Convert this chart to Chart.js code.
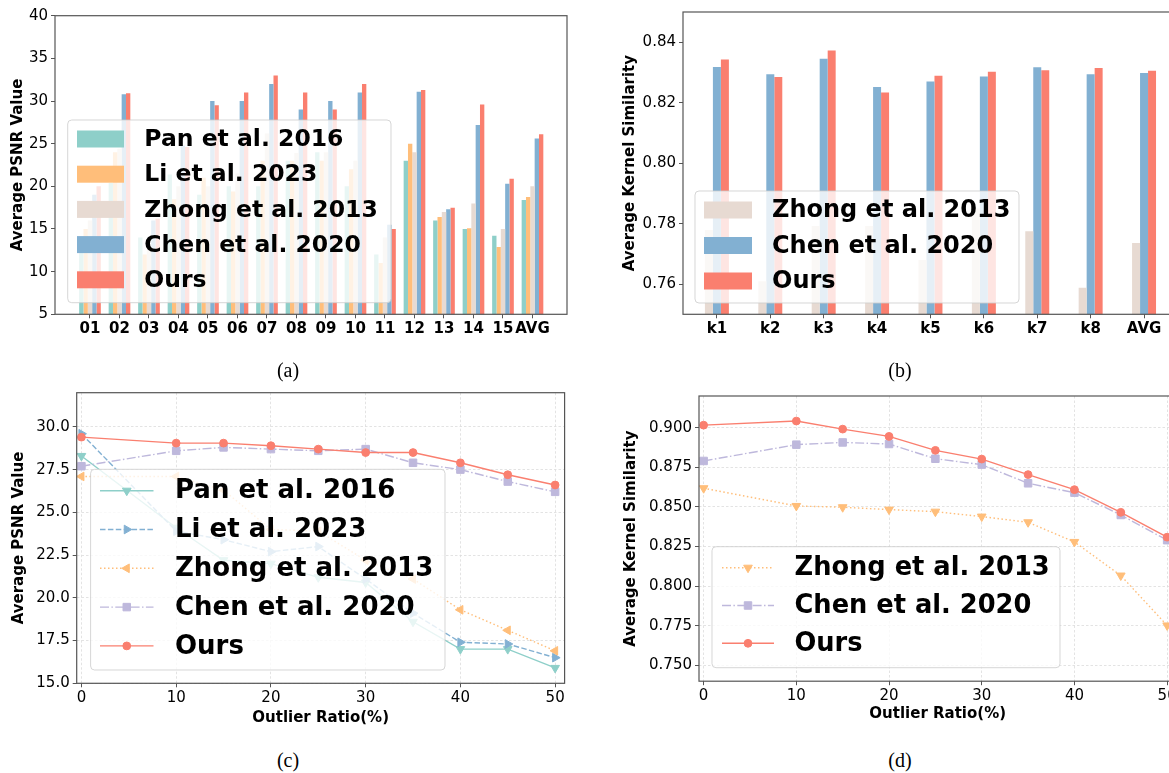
<!DOCTYPE html>
<html>
<head>
<meta charset="utf-8">
<title>PSNR / Kernel Similarity</title>
<script src="https://cdn.jsdelivr.net/npm/chart.js@4.4.1/dist/chart.umd.min.js"></script>
<style>
html, body { margin:0; padding:0; background:#fff; }
#page { position:relative; width:1169px; height:773px; overflow:hidden; background:#fff; }
#page canvas { position:absolute; }
.cap { position:absolute; width:60px; text-align:center; font-family:"Liberation Serif", serif; font-size:20px; line-height:24px; color:#000; }
</style>
</head>
<body>
<div id="page">
  <canvas id="graficoA" width="590" height="345" style="left:0;top:0"></canvas>
  <canvas id="graficoB" width="580" height="345" style="left:600px;top:0"></canvas>
  <canvas id="graficoC" width="590" height="355" style="left:0;top:380px"></canvas>
  <canvas id="graficoD" width="590" height="355" style="left:600px;top:380px"></canvas>
  <div class="cap" style="left:258px;top:358px">(a)</div>
  <div class="cap" style="left:870px;top:358px">(b)</div>
  <div class="cap" style="left:258px;top:748px">(c)</div>
  <div class="cap" style="left:870px;top:748px">(d)</div>
</div>
<script>

// Datos panel (a)

const seqLabels = ["01","02","03","04","05","06","07","08","09","10","11","12","13","14","15","AVG"];
const psnrPan   = [14.0, 20.4, 14.0, 21.4, 19.0, 20.0, 20.0, 23.0, 24.0, 20.0, 12.0, 23.0, 16.0, 15.0, 14.2, 18.4];
const psnrLi    = [15.0, 24.0, 12.0, 18.5, 21.0, 19.4, 23.0, 23.0, 23.0, 22.0, 11.0, 25.0, 16.4, 15.1, 12.9, 18.75];
const psnrZhong = [16.0, 24.4, 13.0, 20.0, 20.0, 21.5, 26.2, 23.9, 24.0, 23.0, 14.0, 24.0, 17.0, 18.0, 15.0, 20.0];
const psnrChen  = [19.0, 30.8, 16.0, 24.8, 30.0, 30.0, 32.0, 29.0, 30.0, 31.0, 15.5, 31.1, 17.3, 27.2, 20.3, 25.6];
const psnrOurs  = [20.0, 30.9, 16.2, 24.6, 29.5, 31.0, 33.0, 31.0, 29.0, 32.0, 15.0, 31.3, 17.5, 29.6, 20.9, 26.1];
const psnrTicks = [5, 10, 15, 20, 25, 30, 35, 40];

// Datos panel (b)

const kernelLabels = ["k1","k2","k3","k4","k5","k6","k7","k8","AVG"];
const simZhong = [0.7779, 0.7609, 0.7792, 0.7792, 0.7680, 0.7850, 0.7775, 0.7588, 0.7736];
const simChen  = [0.8318, 0.8294, 0.8345, 0.8252, 0.8270, 0.8287, 0.8317, 0.8294, 0.8298];
const simOurs  = [0.8343, 0.8285, 0.8373, 0.8234, 0.8289, 0.8302, 0.8307, 0.8315, 0.8306];
const simTicks = [0.76, 0.78, 0.80, 0.82, 0.84];

// Datos panel (c) y (d)

const outlierRatio = [0, 10, 15, 20, 25, 30, 35, 40, 45, 50];
const ratioTicks = [0, 10, 20, 30, 40, 50];

const outPsnrPan   = [28.3, 24.1, 22.2, 22.0, 21.2, 20.9, 18.6, 17.0, 17.0, 15.9];
const outPsnrLi    = [29.6, 23.9, 23.4, 22.7, 23.0, 21.1, 19.1, 17.4, 17.3, 16.5];
const outPsnrZhong = [27.1, 27.1, 26.3, 24.0, 23.9, 22.2, 21.1, 19.3, 18.1, 16.9];
const outPsnrChen  = [27.7, 28.6, 28.8, 28.7, 28.6, 28.7, 27.9, 27.5, 26.8, 26.2];
const outPsnrOurs  = [29.4, 29.05, 29.05, 28.9, 28.7, 28.5, 28.5, 27.9, 27.2, 26.6];
const outPsnrTicks = [15, 17.5, 20, 22.5, 25, 27.5, 30];

const outSimZhong = [0.8618, 0.8506, 0.8498, 0.8483, 0.8470, 0.8439, 0.8403, 0.8279, 0.8067, 0.7752];
const outSimChen  = [0.8790, 0.8893, 0.8907, 0.8897, 0.8804, 0.8767, 0.8649, 0.8590, 0.8449, 0.8290];
const outSimOurs  = [0.9016, 0.9042, 0.8991, 0.8945, 0.8857, 0.8802, 0.8704, 0.8609, 0.8466, 0.8309];
const outSimTicks = [0.75, 0.775, 0.80, 0.825, 0.85, 0.875, 0.90];

// Colores

const colPan = "#8ECFC9";
const colLi = "#FFBE7A";
const colZhong = "#E7DAD2";
const colChen = "#82B0D2";
const colOurs = "#FA7F6F";
const colChenLine = "#BEB8DC";

Chart.defaults.font.family = "'DejaVu Sans', sans-serif";
Chart.defaults.color = "#000";
Chart.defaults.animation = false;

// Helpers

const barras = vals => vals.map((v, i) => ({x: i, y: v}));
const puntos = vals => outlierRatio.map((r, i) => ({x: r, y: vals[i]}));

function fijar(size) {
    return function(scale) {
        if (scale.isHorizontal()) scale.height = size; else scale.width = size;
    };
}

function ticksDe(values) {
    return function(scale) {
        scale.ticks = values.map(v => ({value: v}));
    };
}

// Marco de los ejes (4 lados)

const marco = {
    id: "marco",
    afterDraw(chart) {
        const a = chart.chartArea, c = chart.ctx;
        c.save();
        c.strokeStyle = "#555";
        c.lineWidth = 1.2;
        c.strokeRect(a.left, a.top, a.right - a.left, a.bottom - a.top);
        c.restore();
    }
};

// Leyenda dentro del área, con fondo semitransparente

const cajaLeyenda = {
    id: "cajaLeyenda",
    afterDatasetsDraw(chart, args, o) {
        const c = chart.ctx;
        c.save();
        c.beginPath();
        c.roundRect(o.left, o.top, o.width, o.height, 4);
        c.fillStyle = "rgba(255,255,255,0.8)";
        c.fill();
        c.strokeStyle = "rgba(204,204,204,0.8)";
        c.lineWidth = 1;
        c.stroke();

        chart.data.datasets.forEach((ds, i) => {
            const y = o.firstRow + i * o.rowGap;
            if (o.kind === "bar") {
                c.fillStyle = ds.backgroundColor;
                c.fillRect(o.handleX, y - o.handleH / 2, o.handleW, o.handleH);
            } else {
                c.strokeStyle = ds.borderColor;
                c.lineWidth = ds.borderWidth;
                c.setLineDash(ds.borderDash || []);
                c.beginPath();
                c.moveTo(o.handleX, y);
                c.lineTo(o.handleX + o.handleW, y);
                c.stroke();
                c.setLineDash([]);
                c.fillStyle = ds.borderColor;
                c.lineWidth = 1;
                Chart.helpers.drawPoint(c, {
                    pointStyle: ds.pointStyle,
                    rotation: ds.pointRotation || 0,
                    radius: ds.pointRadius,
                    borderWidth: 1
                }, o.handleX + o.handleW / 2, y);
            }
            c.fillStyle = "#000";
            c.font = "bold " + o.fontSize + "px 'DejaVu Sans', sans-serif";
            c.textBaseline = "middle";
            c.textAlign = "left";
            c.fillText(ds.label, o.textX, y + 1);
        });
        c.restore();
    }
};

// Configuración común de ejes

const tickFont = {size: 15};
const tickFontBold = {size: 15, weight: "bold"};

const gridBarras = {drawOnChartArea: false, color: "#555", tickLength: 4, offset: false};
const gridLineas = {color: "#dcdcdc", lineWidth: 0.8, tickColor: "#555", tickWidth: 1, tickLength: 4};

function lineaDataset(label, vals, color, dash, style, rot, radius, order) {
    return {
        label: label,
        data: puntos(vals),
        borderColor: color,
        backgroundColor: color,
        pointBackgroundColor: color,
        pointBorderColor: color,
        borderWidth: 1.4,
        borderDash: dash,
        pointStyle: style,
        pointRotation: rot,
        pointRadius: radius,
        pointBorderWidth: 1,
        tension: 0,
        fill: false,
        order: order
    };
}

// Panel (a)

new Chart(document.getElementById("graficoA"), {
    type: "bar",
    data: {
        datasets: [
            {label: "Pan et al. 2016", data: barras(psnrPan), backgroundColor: colPan},
            {label: "Li et al. 2023", data: barras(psnrLi), backgroundColor: colLi},
            {label: "Zhong et al. 2013", data: barras(psnrZhong), backgroundColor: colZhong},
            {label: "Chen et al. 2020", data: barras(psnrChen), backgroundColor: colChen},
            {label: "Ours", data: barras(psnrOurs), backgroundColor: colOurs}
        ]
    },
    options: {
        responsive: false,
        layout: {autoPadding: false, padding: {left: 0, top: 15.7, right: 23, bottom: 0}},
        datasets: {bar: {categoryPercentage: 0.735, barPercentage: 1, borderWidth: 0}},
        plugins: {
            legend: {display: false},
            tooltip: {enabled: false},
            cajaLeyenda: {kind: "bar", left: 67.7, top: 120, width: 323.3, height: 182.7,
                firstRow: 139, rowGap: 35.2, handleX: 77, handleW: 47, handleH: 17, textX: 144.3, fontSize: 23.5}
        },
        scales: {
            x: {
                type: "linear", min: -1.186, max: 16.17, offset: false,
                afterBuildTicks: ticksDe(seqLabels.map((l, i) => i)),
                afterFit: fijar(30.7),
                ticks: {callback: v => seqLabels[v], font: tickFontBold, padding: 2, autoSkip: false, maxRotation: 0, minRotation: 0},
                grid: gridBarras,
                border: {display: false}
            },
            y: {
                min: 5, max: 40,
                afterBuildTicks: ticksDe(psnrTicks),
                afterFit: fijar(55),
                ticks: {font: tickFont, padding: 3},
                grid: gridBarras,
                border: {display: false},
                title: {display: true, text: "Average PSNR Value", font: {size: 15, weight: "bold"}, padding: {top: 9, bottom: 0}}
            }
        }
    },
    plugins: [cajaLeyenda, marco]
});

// Panel (b)

new Chart(document.getElementById("graficoB"), {
    type: "bar",
    data: {
        datasets: [
            {label: "Zhong et al. 2013", data: barras(simZhong), backgroundColor: colZhong},
            {label: "Chen et al. 2020", data: barras(simChen), backgroundColor: colChen},
            {label: "Ours", data: barras(simOurs), backgroundColor: colOurs}
        ]
    },
    options: {
        responsive: false,
        layout: {autoPadding: false, padding: {left: 0, top: 9.3, right: 2, bottom: 0}},
        datasets: {bar: {categoryPercentage: 0.449, barPercentage: 1, borderWidth: 0}},
        plugins: {
            legend: {display: false},
            tooltip: {enabled: false},
            cajaLeyenda: {kind: "bar", left: 95, top: 191, width: 324, height: 112,
                firstRow: 210, rowGap: 35.5, handleX: 104, handleW: 48, handleH: 17, textX: 172, fontSize: 24}
        },
        scales: {
            x: {
                type: "linear", min: -0.635, max: 8.636, offset: false,
                afterBuildTicks: ticksDe(kernelLabels.map((l, i) => i)),
                afterFit: fijar(30.7),
                ticks: {callback: v => kernelLabels[v], font: tickFontBold, padding: 2, autoSkip: false, maxRotation: 0, minRotation: 0},
                grid: gridBarras,
                border: {display: false}
            },
            y: {
                min: 0.75, max: 0.85,
                afterBuildTicks: ticksDe(simTicks),
                afterFit: fijar(83),
                ticks: {font: tickFont, padding: 3, callback: v => v.toFixed(2)},
                grid: gridBarras,
                border: {display: false},
                title: {display: true, text: "Average Kernel Similarity", font: {size: 15, weight: "bold"}, padding: {top: 21.5, bottom: 0}}
            }
        }
    },
    plugins: [cajaLeyenda, marco]
});

// Panel (c)

new Chart(document.getElementById("graficoC"), {
    type: "line",
    data: {
        datasets: [
            lineaDataset("Pan et al. 2016", outPsnrPan, colPan, [], "triangle", 180, 5, 5),
            lineaDataset("Li et al. 2023", outPsnrLi, colChen, [5.5, 2.4], "triangle", 90, 5, 4),
            lineaDataset("Zhong et al. 2013", outPsnrZhong, colLi, [1.5, 2.5], "triangle", 270, 5, 3),
            lineaDataset("Chen et al. 2020", outPsnrChen, colChenLine, [9, 2.4, 1.5, 2.4], "rect", 0, 5.3, 2),
            lineaDataset("Ours", outPsnrOurs, colOurs, [], "circle", 0, 3.9, 1)
        ]
    },
    options: {
        responsive: false,
        layout: {autoPadding: false, padding: {left: 0, top: 12.7, right: 25.4, bottom: 0}},
        plugins: {
            legend: {display: false},
            tooltip: {enabled: false},
            cajaLeyenda: {kind: "line", left: 90.6, top: 89.3, width: 354.4, height: 200.7,
                firstRow: 110.7, rowGap: 38.8, handleX: 100, handleW: 53.5, textX: 175, fontSize: 26}
        },
        scales: {
            x: {
                type: "linear", min: -0.5, max: 51,
                afterBuildTicks: ticksDe(ratioTicks),
                afterFit: fijar(51.7),
                ticks: {font: tickFont, padding: 2, maxRotation: 0, minRotation: 0},
                grid: gridLineas,
                border: {display: false, dash: [2.5, 2]},
                title: {display: true, text: "Outlier Ratio(%)", font: {size: 15, weight: "bold"}, padding: {top: 0, bottom: 8}}
            },
            y: {
                min: 15, max: 32,
                afterBuildTicks: ticksDe(outPsnrTicks),
                afterFit: fijar(76.7),
                ticks: {font: tickFont, padding: 3, callback: v => v.toFixed(1)},
                grid: gridLineas,
                border: {display: false, dash: [2.5, 2]},
                title: {display: true, text: "Average PSNR Value", font: {size: 15, weight: "bold"}, padding: {top: 10.5, bottom: 0}}
            }
        }
    },
    plugins: [cajaLeyenda, marco]
});

// Panel (d)

new Chart(document.getElementById("graficoD"), {
    type: "line",
    data: {
        datasets: [
            lineaDataset("Zhong et al. 2013", outSimZhong, colLi, [1.5, 2.5], "triangle", 180, 5, 3),
            lineaDataset("Chen et al. 2020", outSimChen, colChenLine, [9, 2.4, 1.5, 2.4], "rect", 0, 5.3, 2),
            lineaDataset("Ours", outSimOurs, colOurs, [], "circle", 0, 3.9, 1)
        ]
    },
    options: {
        responsive: false,
        layout: {autoPadding: false, padding: {left: 0, top: 16, right: 13.6, bottom: 0}},
        plugins: {
            legend: {display: false},
            tooltip: {enabled: false},
            cajaLeyenda: {kind: "line", left: 112, top: 166.7, width: 348, height: 121,
                firstRow: 187.7, rowGap: 37.8, handleX: 122, handleW: 52, textX: 194.5, fontSize: 25.7}
        },
        scales: {
            x: {
                type: "linear", min: -0.5, max: 51,
                afterBuildTicks: ticksDe(ratioTicks),
                afterFit: fijar(53.8),
                ticks: {font: tickFont, padding: 2, maxRotation: 0, minRotation: 0},
                grid: gridLineas,
                border: {display: false, dash: [2.5, 2]},
                title: {display: true, text: "Outlier Ratio(%)", font: {size: 15, weight: "bold"}, padding: {top: 0, bottom: 12}}
            },
            y: {
                min: 0.74, max: 0.92,
                afterBuildTicks: ticksDe(outSimTicks),
                afterFit: fijar(99),
                ticks: {font: tickFont, padding: 3, callback: v => v.toFixed(3)},
                grid: gridLineas,
                border: {display: false, dash: [2.5, 2]},
                title: {display: true, text: "Average Kernel Similarity", font: {size: 15, weight: "bold"}, padding: {top: 22, bottom: 0}}
            }
        }
    },
    plugins: [cajaLeyenda, marco]
});

</script>
</body>
</html>
